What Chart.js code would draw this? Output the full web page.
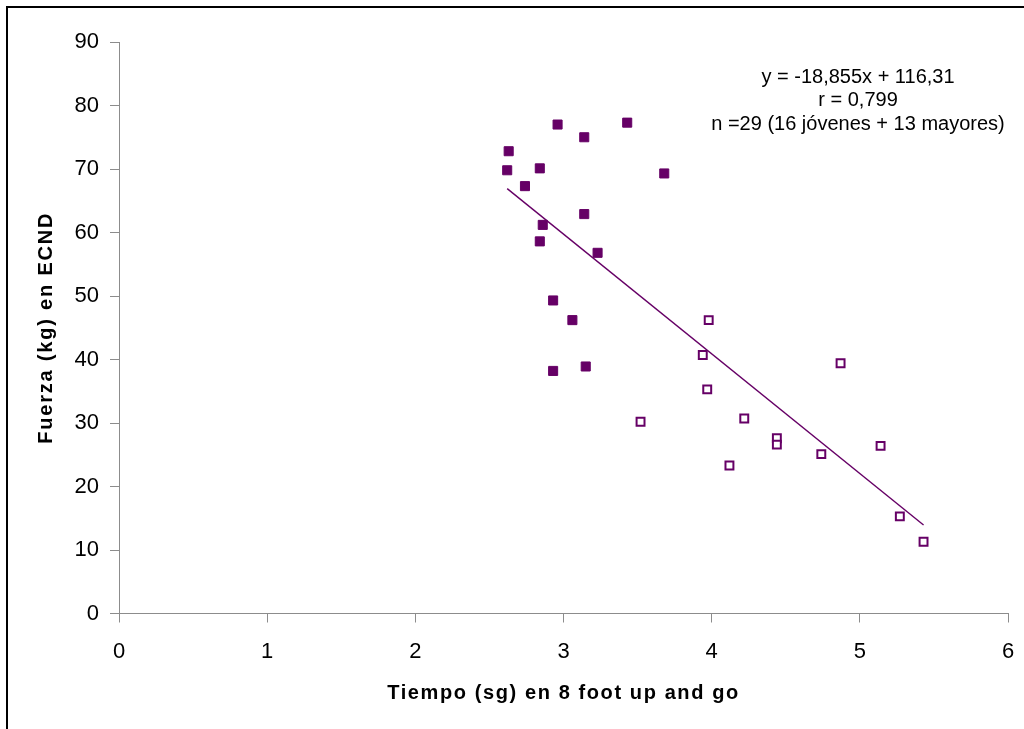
<!DOCTYPE html>
<html>
<head>
<meta charset="utf-8">
<script src="https://cdn.jsdelivr.net/npm/chart.js@4.4.1/dist/chart.umd.min.js"></script>
<style>
html,body{margin:0;padding:0;background:#fff;}
#wrap{width:1024px;height:729px;position:relative;}
canvas{display:block;}
</style>
</head>
<body>
<div id="wrap"><canvas id="c" width="1024" height="729"></canvas></div>
<script>
// ---- data ----
const jovenesX = [2.96, 3.43, 3.14, 2.63, 2.62, 2.84, 3.68, 2.74, 3.14, 2.86, 2.84, 3.23, 2.93, 3.06, 2.93, 3.15];
const jovenesY = [77.0, 77.3, 75.0, 72.8, 69.8, 70.1, 69.3, 67.3, 62.9, 61.2, 58.6, 56.8, 49.3, 46.2, 38.2, 38.9];
const mayoresX = [3.98, 3.94, 4.87, 3.97, 3.52, 4.22, 4.44, 4.44, 5.14, 4.74, 4.12, 5.27, 5.43];
const mayoresY = [46.2, 40.7, 39.4, 35.3, 30.2, 30.7, 27.6, 26.6, 26.4, 25.1, 23.3, 15.3, 11.3];
const trendSlope = -18.855;
const trendIntercept = 116.31;
const annotationLines = ["y = -18,855x + 116,31", "r = 0,799", "n =29 (16 jóvenes + 13 mayores)"];
const xTitle = "Tiempo (sg) en 8 foot up and go";
const yTitle = "Fuerza (kg) en ECND";

const PURPLE = '#660066';
const AXIS = '#8c8c8c';
const FONT = "'Liberation Sans', Arial, sans-serif";

const toPts = (xs, ys) => xs.map((x, i) => ({x: x, y: ys[i]}));
const allX = jovenesX.concat(mayoresX);
const xMin = Math.min(...allX), xMax = Math.max(...allX);
const trendPts = [xMin, xMax].map(x => ({x: x, y: trendSlope * x + trendIntercept}));

const decor = {
  id: 'decor',
  afterLayout(chart) {
    ['x', 'y'].forEach(id => {
      const s = chart.scales[id];
      if (s && !s._lsPatched) {
        const orig = s.drawTitle.bind(s);
        s.drawTitle = function () {
          const c = this.ctx; c.save();
          c.letterSpacing = id === 'x' ? '1.6px' : '1.8px';
          orig(); c.restore();
        };
        s._lsPatched = true;
      }
    });
  },
  afterDraw(chart) {
    const ctx = chart.ctx;
    ctx.save();
    ctx.strokeStyle = '#000';
    ctx.lineWidth = 2;
    ctx.strokeRect(7, 7, 1200, 1200);
    ctx.fillStyle = '#000';
    ctx.font = '20px ' + FONT;
    ctx.textAlign = 'center';
    ctx.textBaseline = 'alphabetic';
    const base = [83, 106, 130];
    annotationLines.forEach((t, i) => ctx.fillText(t, 858, base[i]));
    ctx.restore();
  }
};

new Chart(document.getElementById('c'), {
  type: 'scatter',
  data: {
    datasets: [
      {
        type: 'line',
        label: 'Tendencia',
        data: trendPts,
        borderColor: PURPLE,
        borderWidth: 1.4,
        pointRadius: 0,
        fill: false,
        tension: 0
      },
      {
        label: 'Jóvenes',
        data: toPts(jovenesX, jovenesY),
        pointStyle: 'rect',
        pointRadius: 6.4,
        pointHoverRadius: 6.4,
        backgroundColor: PURPLE,
        borderColor: PURPLE,
        borderWidth: 1
      },
      {
        label: 'Mayores',
        data: toPts(mayoresX, mayoresY),
        pointStyle: 'rect',
        pointRadius: 5.6,
        pointHoverRadius: 5.6,
        backgroundColor: '#ffffff',
        borderColor: PURPLE,
        borderWidth: 2
      }
    ]
  },
  options: {
    responsive: false,
    animation: false,
    events: [],
    layout: {autoPadding: false, padding: {left: 0, top: 42, right: 16, bottom: 0}},
    plugins: {legend: {display: false}, tooltip: {enabled: false}},
    scales: {
      x: {
        type: 'linear',
        min: 0, max: 6,
        ticks: {stepSize: 1, color: '#000', font: {family: FONT, size: 22}, padding: 16},
        grid: {drawOnChartArea: false, drawTicks: true, tickLength: 9, color: AXIS},
        border: {color: AXIS, width: 1},
        title: {display: true, text: xTitle, color: '#000', font: {family: FONT, size: 20, weight: 'bold'}, padding: {top: 0, bottom: 24}},
        afterFit(s) { s.height = 115.5; s.paddingRight = 7; s.paddingLeft = 0; }
      },
      y: {
        type: 'linear',
        min: 0, max: 90,
        ticks: {stepSize: 10, color: '#000', font: {family: FONT, size: 22}, padding: 11},
        grid: {drawOnChartArea: false, drawTicks: true, tickLength: 9, color: AXIS},
        border: {color: AXIS, width: 1},
        title: {display: true, text: yTitle, color: '#000', font: {family: FONT, size: 20, weight: 'bold'}, padding: {top: 34, bottom: 0}},
        afterFit(s) { s.width = 119; }
      }
    }
  },
  plugins: [decor]
});
</script>
</body>
</html>
